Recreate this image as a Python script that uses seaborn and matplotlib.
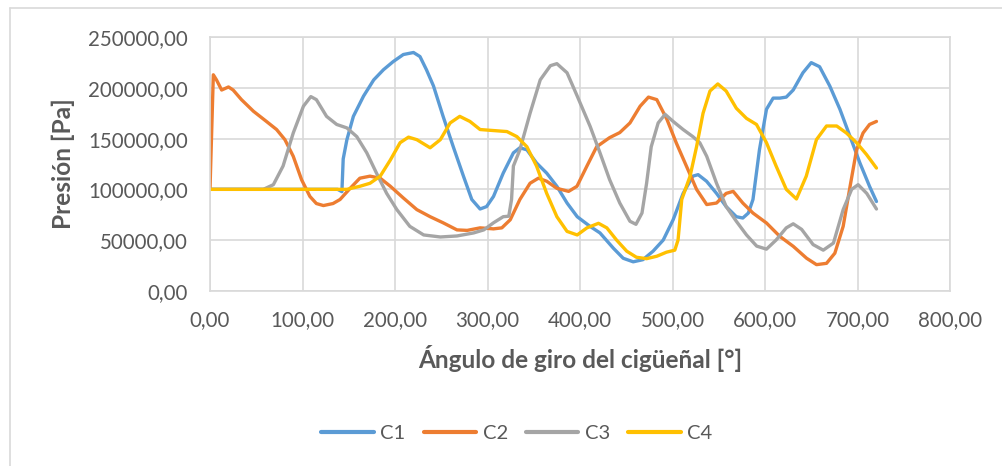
import numpy as np
import pandas as pd
import seaborn as sns
import matplotlib
matplotlib.use("Agg")
import matplotlib.pyplot as plt
from matplotlib.lines import Line2D

# ---------------- data ----------------
series_names = ["C1", "C2", "C3", "C4"]
series_colors = ["#5B9BD5", "#ED7D31", "#A5A5A5", "#FFC000"]

c1_ang = [0, 138, 142.6, 144, 148, 155, 166, 177, 187.5, 198, 209, 220, 227, 234, 241.6, 252, 263,
          274, 283, 292, 299, 306.5, 317, 328, 335, 342.6, 353, 364, 375, 386, 397, 410.8, 421.6,
          436, 446.7, 457.5, 468, 479, 490, 500.7, 511.5, 522, 527.7, 536.8, 547.6, 558, 569, 576,
          582, 587, 594, 601.6, 608.8, 616, 623, 630.5, 641, 650, 659, 670, 681, 692, 702.6, 713, 720.5]
c1_pres = [100000, 100000, 97700, 130000, 149000, 172000, 192000, 208000, 218000, 226000, 233000,
           235000, 231000, 218000, 202000, 172000, 142000, 113000, 90000, 80600, 83000, 93000,
           116000, 136000, 141000, 139000, 126000, 116000, 103000, 86500, 73000, 63500, 57000,
           42000, 32000, 28500, 30600, 39000, 50000, 70000, 96000, 113000, 114500, 108000, 96000,
           83000, 73000, 71700, 76600, 90000, 139000, 179000, 190000, 190000, 191000, 198000,
           215000, 225000, 221000, 202000, 179000, 152000, 126000, 103000, 88000]

c2_ang = [0, 3.6, 7, 12.6, 20, 25, 34, 47, 61, 72, 81, 90, 99, 108, 115, 122.6, 133, 140.6, 151.5,
          162, 173, 184, 195, 209, 223.6, 238, 252, 267, 278, 292, 306.5, 315.5, 324.6, 335, 346,
          355, 364, 375, 387.7, 396.7, 407.5, 418, 432, 443, 454, 465, 474, 483, 494, 504, 515,
          526, 537, 547.6, 558, 565.6, 576, 587, 601.6, 616, 630.5, 645, 655.7, 666.5, 675.5,
          684.5, 692, 699, 706, 713, 720.5]
c2_pres = [100000, 213000, 208000, 198000, 201000, 198000, 188500, 177000, 167000, 159000, 149000,
           132600, 109500, 93000, 86000, 84000, 86000, 90000, 101000, 111000, 113000, 111000,
           103000, 91500, 80000, 73000, 67000, 60000, 59500, 62000, 61000, 62000, 70000, 90000,
           106000, 111000, 108000, 101000, 98000, 103000, 123000, 142000, 151000, 156000, 165500,
           182000, 191000, 188500, 169000, 146000, 123000, 100000, 85000, 86500, 96000, 98000,
           86500, 76600, 66800, 53600, 43800, 32000, 25700, 27000, 37000, 63500, 103000, 139000,
           155600, 164000, 167000]

c3_ang = [0, 57.7, 68.5, 79, 90, 101, 109, 115, 126, 137, 148, 158.7, 169.5, 180, 191, 202, 216,
          231, 249, 267, 285, 296, 306.5, 317, 323, 326, 328, 335, 346, 357, 368, 375, 386, 397,
          411, 421.6, 432, 443, 454, 460.5, 467, 472, 477, 484.5, 492, 500.7, 511.5, 522, 529.5,
          537, 547.6, 558, 569, 580, 591, 601.6, 612, 623, 630.5, 639.6, 652, 663, 674, 684.5,
          693.7, 700.7, 710, 720.5]
c3_pres = [100000, 100000, 104600, 123000, 155600, 182000, 191500, 188500, 172000, 164000, 160600,
           152000, 136000, 116000, 96000, 80000, 63500, 55000, 53000, 54000, 57000, 60000, 67000,
           73000, 73500, 90000, 123000, 139000, 175000, 208000, 222000, 224000, 215000, 192000,
           162000, 136000, 109600, 86500, 68500, 65500, 76600, 106000, 142000, 165500, 174000,
           167000, 159000, 152000, 146000, 132600, 106000, 83000, 68500, 55000, 44000, 41000,
           50000, 62000, 66000, 60500, 45500, 40000, 47000, 80000, 100000, 104600, 96000, 80600]

c4_ang = [0, 148, 162, 173, 184, 195, 205.5, 214.6, 223.6, 238, 249, 259.6, 270, 281, 292, 306.5,
          321, 331.8, 342.6, 353, 364, 375, 386, 397, 407.5, 420, 429, 439.5, 450.5, 461, 472,
          483, 493.5, 502.5, 506, 510, 519, 526, 533, 540.5, 549, 558, 569, 580, 590.8, 601.6,
          612, 623, 634, 644.6, 655.6, 666.5, 677.5, 688, 699, 709.6, 720.5]
c4_pres = [100000, 100000, 103000, 106000, 113000, 129000, 146000, 151500, 149000, 141000, 149000,
           165500, 172000, 167000, 159000, 158000, 157000, 152000, 142000, 123000, 96000, 73000,
           58500, 55000, 62000, 66500, 62000, 50000, 39000, 33000, 31600, 34000, 38000, 40000,
           50000, 90000, 113000, 142000, 175000, 197000, 204000, 197000, 180000, 170000, 164000,
           146000, 123000, 100000, 90500, 113000, 149000, 162500, 162500, 155600, 146000, 134500,
           121000]

x_ticks = [0, 100, 200, 300, 400, 500, 600, 700, 800]
y_ticks = [0, 50000, 100000, 150000, 200000, 250000]
x_label = "Ángulo de giro del cigüeñal [°]"
y_label = "Presión [Pa]"

# ---------------- build long-form table ----------------
frames = []
for name, a, p in zip(series_names,
                      [c1_ang, c2_ang, c3_ang, c4_ang],
                      [c1_pres, c2_pres, c3_pres, c4_pres]):
    frames.append(pd.DataFrame({"ang": a, "pres": p, "serie": name}))
df = pd.concat(frames, ignore_index=True)

# ---------------- figure ----------------
sns.set_theme(style="white")
plt.rcParams["font.family"] = ["Lato", "DejaVu Sans"]

W, H = 1002, 466
fig = plt.figure(figsize=(W / 100, H / 100), dpi=100)
ax = fig.add_axes([210 / W, 1 - 290.7 / H, (950 - 210) / W, (290.7 - 37.3) / H])

grid_c = "#D9D9D9"
text_c = "#595959"

sns.lineplot(data=df, x="ang", y="pres", hue="serie", palette=series_colors,
             sort=False, estimator=None, linewidth=2.4, ax=ax, legend=False,
             solid_joinstyle="round", solid_capstyle="round")

ax.set_xlim(0, 800)
ax.set_ylim(0, 250000)
ax.set_xticks(x_ticks)
ax.set_yticks(y_ticks)
ax.set_xticklabels([f"{v:.2f}".replace(".", ",") for v in x_ticks])
ax.set_yticklabels([f"{v:.2f}".replace(".", ",") for v in y_ticks])
ax.tick_params(axis="both", length=0, labelsize=14.8, labelcolor=text_c)
ax.tick_params(axis="x", pad=14)
ax.tick_params(axis="y", pad=16)
ax.grid(True, color=grid_c, linewidth=1.2)
ax.set_axisbelow(True)
for s in ax.spines.values():
    s.set_color(grid_c)
    s.set_linewidth(1.2)

ax.set_xlabel(x_label, fontsize=17.6, fontweight="bold", color=text_c, labelpad=11)
ax.set_ylabel(y_label, fontsize=17.6, fontweight="bold", color=text_c)
ax.yaxis.set_label_coords(-0.182, 0.5)

handles = [Line2D([0], [0], color=c, linewidth=3) for c in series_colors]
fig.legend(handles, series_names, loc="center", bbox_to_anchor=(517 / W, 1 - 433 / H),
           ncol=4, frameon=False, fontsize=14.5, handlelength=2.6, handletextpad=0.33,
           columnspacing=0.9, labelcolor=text_c)

# outer chart frame (partially visible in the reference)
fig.add_artist(Line2D([9.5 / W, 9.5 / W], [0, 1 - 8 / H], transform=fig.transFigure,
                      color=grid_c, linewidth=1.2))
fig.add_artist(Line2D([9.5 / W, 1], [1 - 8 / H, 1 - 8 / H], transform=fig.transFigure,
                      color=grid_c, linewidth=1.2))

fig.savefig("out.png", dpi=100)
